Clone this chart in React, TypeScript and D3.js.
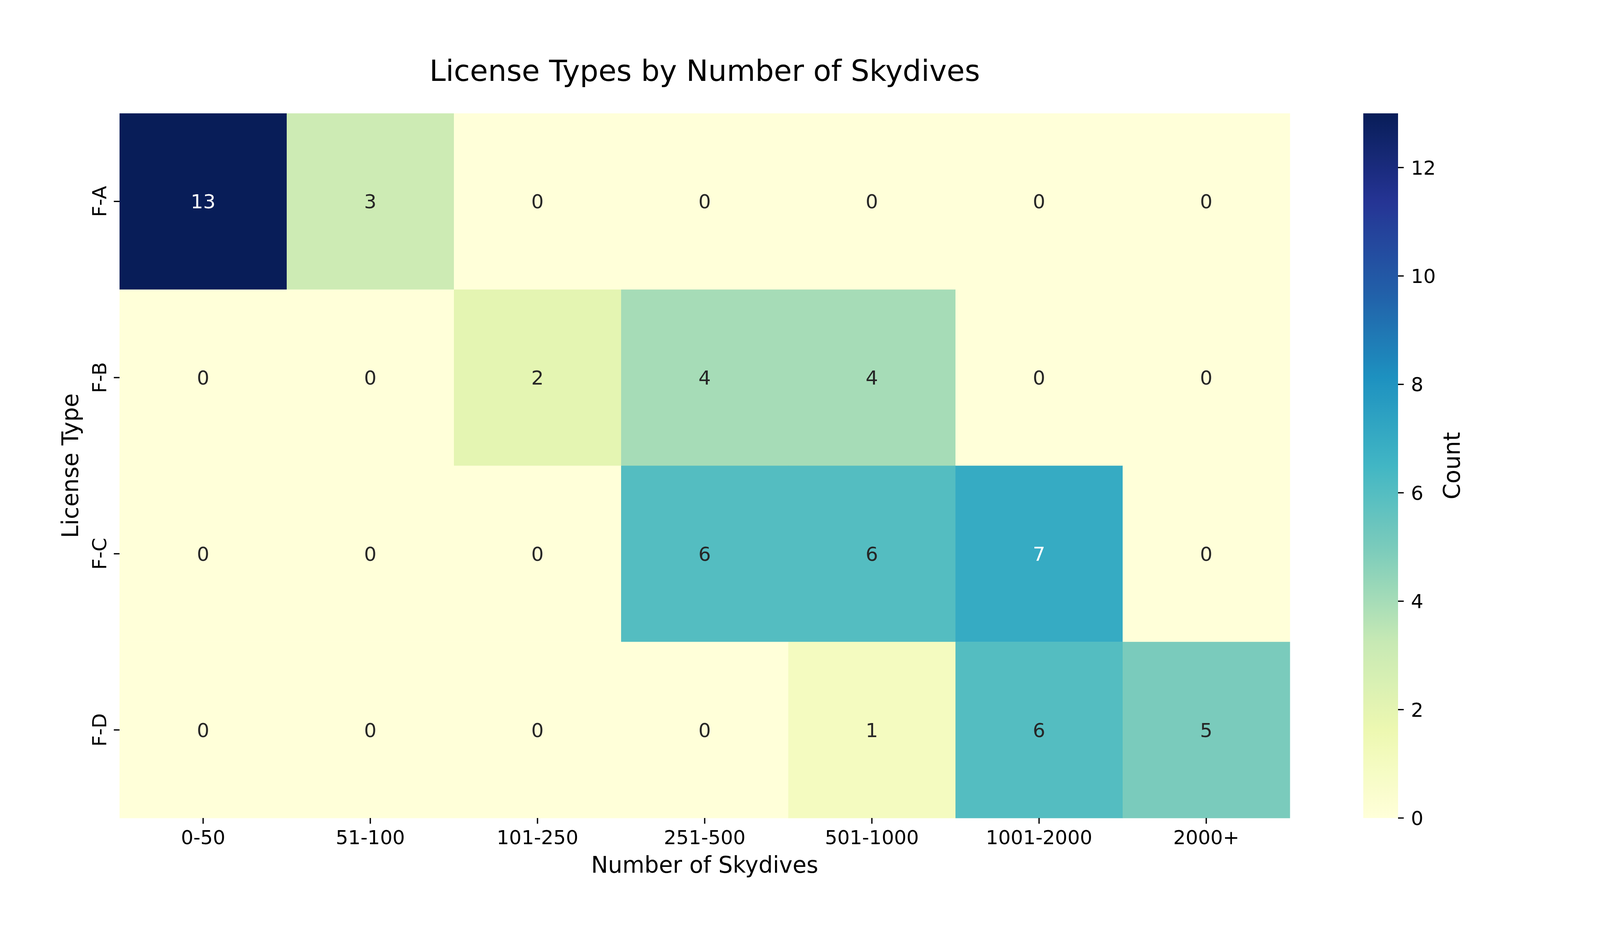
import React from "react";
import * as d3 from "d3";

const skydiveBins = ["0-50", "51-100", "101-250", "251-500", "501-1000", "1001-2000", "2000+"];
const licenseTypes = ["F-A", "F-B", "F-C", "F-D"];
const countsFA = [13, 3, 0, 0, 0, 0, 0];
const countsFB = [0, 0, 2, 4, 4, 0, 0];
const countsFC = [0, 0, 0, 6, 6, 7, 0];
const countsFD = [0, 0, 0, 0, 1, 6, 5];
const colorbarTicks = [0, 2, 4, 6, 8, 10, 12];
const ylgnbu = ["#ffffd9", "#edf8b1", "#c7e9b4", "#7fcdbb", "#41b6c4", "#1d91c0", "#225ea8", "#253494", "#081d58"];

const W = 4200;
const H = 2400;
const FONT = "DejaVu Sans, Verdana, sans-serif";

function luminance(color: string): number {
  const c = d3.rgb(color);
  const lin = (v: number) => {
    const s = v / 255;
    return s <= 0.03928 ? s / 12.92 : Math.pow((s + 0.055) / 1.055, 2.4);
  };
  return 0.2126 * lin(c.r) + 0.7152 * lin(c.g) + 0.0722 * lin(c.b);
}

export default function App() {
  const rows = [countsFA, countsFB, countsFC, countsFD];
  const vmin = 0;
  const vmax = d3.max(rows.flat()) as number;

  const left = 306, right = 3302, top = 290, bottom = 2093;
  const x = d3.scaleBand<string>().domain(skydiveBins).range([left, right]).padding(0);
  const y = d3.scaleBand<string>().domain(licenseTypes).range([top, bottom]).padding(0);

  const cmapT = d3
    .scaleLinear<string>()
    .domain(ylgnbu.map((_, i) => i / (ylgnbu.length - 1)))
    .range(ylgnbu)
    .interpolate(d3.interpolateRgb)
    .clamp(true);
  const color = (v: number) => cmapT((v - vmin) / (vmax - vmin));

  const cbLeft = 3490, cbRight = 3579;
  const cbScale = d3.scaleLinear().domain([vmin, vmax]).range([bottom, top]);
  const gradStops = d3.range(0, 1.0001, 1 / 64);

  const cx = (left + right) / 2;
  const cy = (top + bottom) / 2;

  return (
    <svg
      width={W}
      height={H}
      viewBox={`0 0 ${W} ${H}`}
      style={{ position: "absolute", left: 0, top: 0, background: "#fff" }}
      fontFamily={FONT}
    >
      <defs>
        <linearGradient id="cbgrad" x1="0" y1="1" x2="0" y2="0">
          {gradStops.map((t, i) => (
            <stop key={i} offset={t} stopColor={cmapT(t)} />
          ))}
        </linearGradient>
      </defs>
      <rect x={0} y={0} width={W} height={H} fill="#fff" />

      {/* Title */}
      <text x={cx} y={207} textAnchor="middle" fontSize={75} fill="#000">
        License Types by Number of Skydives
      </text>

      {/* Cells */}
      {rows.map((row, ri) =>
        row.map((v, ci) => {
          const fill = color(v);
          const xx = x(skydiveBins[ci]) as number;
          const yy = y(licenseTypes[ri]) as number;
          return (
            <g key={`${ri}-${ci}`}>
              <rect x={xx} y={yy} width={x.bandwidth() + 0.5} height={y.bandwidth() + 0.5} fill={fill} />
              <text
                x={xx + x.bandwidth() / 2}
                y={yy + y.bandwidth() / 2 + 18}
                textAnchor="middle"
                fontSize={50}
                fill={luminance(fill) > 0.408 ? "#262626" : "#ffffff"}
              >
                {v}
              </text>
            </g>
          );
        })
      )}

      {/* X ticks */}
      {skydiveBins.map((b) => {
        const tx = (x(b) as number) + x.bandwidth() / 2;
        return (
          <g key={b}>
            <line x1={tx} x2={tx} y1={bottom} y2={bottom + 14.6} stroke="#000" strokeWidth={3.3} />
            <text x={tx} y={2160} textAnchor="middle" fontSize={50} fill="#000">
              {b}
            </text>
          </g>
        );
      })}
      <text x={cx} y={2233} textAnchor="middle" fontSize={58} fill="#000">
        Number of Skydives
      </text>

      {/* Y ticks */}
      {licenseTypes.map((l) => {
        const ty = (y(l) as number) + y.bandwidth() / 2;
        return (
          <g key={l}>
            <line x1={left - 14.6} x2={left} y1={ty} y2={ty} stroke="#000" strokeWidth={3.3} />
            <text transform={`translate(272,${ty}) rotate(-90)`} textAnchor="middle" fontSize={50} fill="#000">
              {l}
            </text>
          </g>
        );
      })}
      <text transform={`translate(200,${cy}) rotate(-90)`} textAnchor="middle" fontSize={58} fill="#000">
        License Type
      </text>

      {/* Colorbar */}
      <rect x={cbLeft} y={top} width={cbRight - cbLeft} height={bottom - top} fill="url(#cbgrad)" />
      {colorbarTicks.map((t) => {
        const ty = cbScale(t);
        return (
          <g key={t}>
            <line x1={cbRight} x2={cbRight + 14.6} y1={ty} y2={ty} stroke="#000" strokeWidth={3.3} />
            <text x={3612} y={ty + 18} fontSize={50} fill="#000">
              {t}
            </text>
          </g>
        );
      })}
      <text transform={`translate(3737,${cy}) rotate(-90)`} textAnchor="middle" fontSize={58} fill="#000">
        Count
      </text>
    </svg>
  );
}
